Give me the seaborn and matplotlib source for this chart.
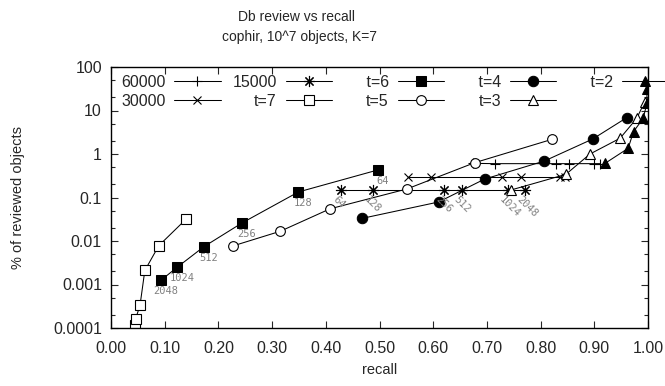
import matplotlib
matplotlib.use('Agg')
import matplotlib.pyplot as plt
import matplotlib.ticker as mticker
import seaborn as sns

# (recall, % of reviewed objects)
t7_x = [0.045, 0.046, 0.054, 0.063, 0.089, 0.140]
t7_y = [0.00012, 0.000165, 0.00033, 0.0021, 0.0078, 0.032]

t6_x = [0.093, 0.123, 0.173, 0.244, 0.349, 0.497]
t6_y = [0.00125, 0.00248, 0.0074, 0.026, 0.134, 0.43]
t6_labels = ['2048', '1024', '512', '256', '128', '64']

t5_x = [0.227, 0.315, 0.408, 0.551, 0.677, 0.821]
t5_y = [0.0077, 0.0167, 0.055, 0.157, 0.63, 2.17]

t4_x = [0.468, 0.610, 0.696, 0.807, 0.897, 0.960]
t4_y = [0.0332, 0.0788, 0.266, 0.69, 2.21, 6.8]

t3_x = [0.745, 0.847, 0.892, 0.948, 0.979, 0.994]
t3_y = [0.149, 0.34, 1.0, 2.3, 6.6, 15.9]

t2_x = [0.920, 0.963, 0.973, 0.991, 0.998, 0.998]
t2_y = [0.61, 1.35, 3.26, 6.6, 14.6, 32]

n60_x = [0.674, 0.715, 0.829, 0.853, 0.899, 0.911]
n60_y = [0.61, 0.6, 0.6, 0.6, 0.6, 0.6]

n30_x = [0.553, 0.596, 0.728, 0.763, 0.836, 0.846]
n30_y = [0.29, 0.29, 0.29, 0.29, 0.29, 0.29]

n15_x = [0.428, 0.487, 0.620, 0.654, 0.739, 0.771]
n15_y = [0.15, 0.15, 0.15, 0.15, 0.15, 0.15]
n15_labels = ['64', '128', '256', '512', '1024', '2048']

x_ticks = [0.0, 0.1, 0.2, 0.3, 0.4, 0.5, 0.6, 0.7, 0.8, 0.9, 1.0]
y_ticks = [0.0001, 0.001, 0.01, 0.1, 1, 10, 100]
y_tick_labels = ['0.0001', '0.001', '0.01', '0.1', '1', '10', '100']

sns.set_style('ticks')
plt.rcParams['font.family'] = ['Liberation Sans', 'DejaVu Sans']
plt.rcParams['font.size'] = 10

fig = plt.figure(figsize=(6.65, 3.86), dpi=100)
ax = fig.add_axes([111 / 665, 1 - 328 / 386, 537 / 665, 261 / 386])

lw = 0.75
series = [
    ('60000', n60_x, n60_y, dict(marker='+', markersize=7, markeredgewidth=0.8)),
    ('30000', n30_x, n30_y, dict(marker='x', markersize=6, markeredgewidth=0.8)),
    ('15000', n15_x, n15_y, dict(marker=(8, 2, 0), markersize=8, markeredgewidth=0.8)),
    ('t=7', t7_x, t7_y, dict(marker='s', markersize=6.5, markerfacecolor='white', markeredgewidth=0.8)),
    ('t=6', t6_x, t6_y, dict(marker='s', markersize=7.2, markerfacecolor='black')),
    ('t=5', t5_x, t5_y, dict(marker='o', markersize=7, markerfacecolor='white', markeredgewidth=0.8)),
    ('t=4', t4_x, t4_y, dict(marker='o', markersize=7.5, markerfacecolor='black')),
    ('t=3', t3_x, t3_y, dict(marker='^', markersize=7, markerfacecolor='white', markeredgewidth=0.8)),
    ('t=2', t2_x, t2_y, dict(marker='^', markersize=7.5, markerfacecolor='black')),
]

for name, xs, ys, style in series:
    sns.lineplot(x=xs, y=ys, ax=ax, color='black', linewidth=lw, sort=False,
                 estimator=None, markeredgecolor='black', label=name, **style)

# parameter labels
for x, y, s in zip(t6_x, t6_y, t6_labels):
    ax.annotate(s, (x, y), xytext=(5, -11), textcoords='offset pixels',
                ha='center', va='center', fontsize=7.5, color='#808080',
                family='DejaVu Sans Mono')
for x, y, s in zip(n15_x, n15_y, n15_labels):
    ax.annotate(s, (x, y), xytext=(-3, -5), textcoords='offset pixels',
                ha='left', va='top', rotation=-45, rotation_mode='anchor',
                fontsize=7.5, color='#808080', family='DejaVu Sans Mono')

ax.set_yscale('log')
ax.set_xlim(0, 1)
ax.set_ylim(0.0001, 100)
ax.set_xticks(x_ticks)
ax.set_xticklabels([f'{v:.2f}' for v in x_ticks])
ax.set_yticks(y_ticks)
ax.set_yticklabels(y_tick_labels)
ax.yaxis.set_minor_locator(mticker.LogLocator(base=10, subs=[2, 5], numticks=20))
ax.yaxis.set_minor_formatter(mticker.NullFormatter())
ax.tick_params(which='both', direction='in', top=True, right=True, width=0.8,
               labelsize=11.5)
ax.tick_params(axis='x', which='major', pad=9.5)
ax.tick_params(axis='y', which='major', pad=6.5)
ax.tick_params(which='major', length=5)
ax.tick_params(which='minor', length=3)
for sp in ax.spines.values():
    sp.set_linewidth(1.0)
    sp.set_color('black')

ax.set_xlabel('recall', fontsize=10.5)
ax.xaxis.set_label_coords(0.5, (328 - 370) / 261)
ax.xaxis.label.set_va('center')
ax.set_ylabel('% of reviewed objects', fontsize=10.5)
ax.yaxis.set_label_coords((18 - 111) / 537, 0.5)
ax.yaxis.label.set_va('center')

fig.text(297 / 665, 1 - 17 / 386, 'Db review vs recall', ha='center', va='center', fontsize=10)
fig.text(300 / 665, 1 - 37 / 386, 'cophir, 10^7 objects, K=7', ha='center', va='center', fontsize=10)

handles, labels = ax.get_legend_handles_labels()
pad = {'t=6': '     t=6', 't=4': '     t=4', 't=2': '     t=2'}
labels = [pad.get(l, l) for l in labels]
ax.legend(handles, labels, ncol=5, markerfirst=False, frameon=False,
          loc='upper left', bbox_to_anchor=(121 / 665, 1 - 75 / 386),
          bbox_transform=fig.transFigure, borderaxespad=0, borderpad=0,
          handlelength=2.9, handletextpad=0.56, columnspacing=0.73,
          labelspacing=0.25, fontsize=11.5)

fig.savefig('out.png', dpi=100)
